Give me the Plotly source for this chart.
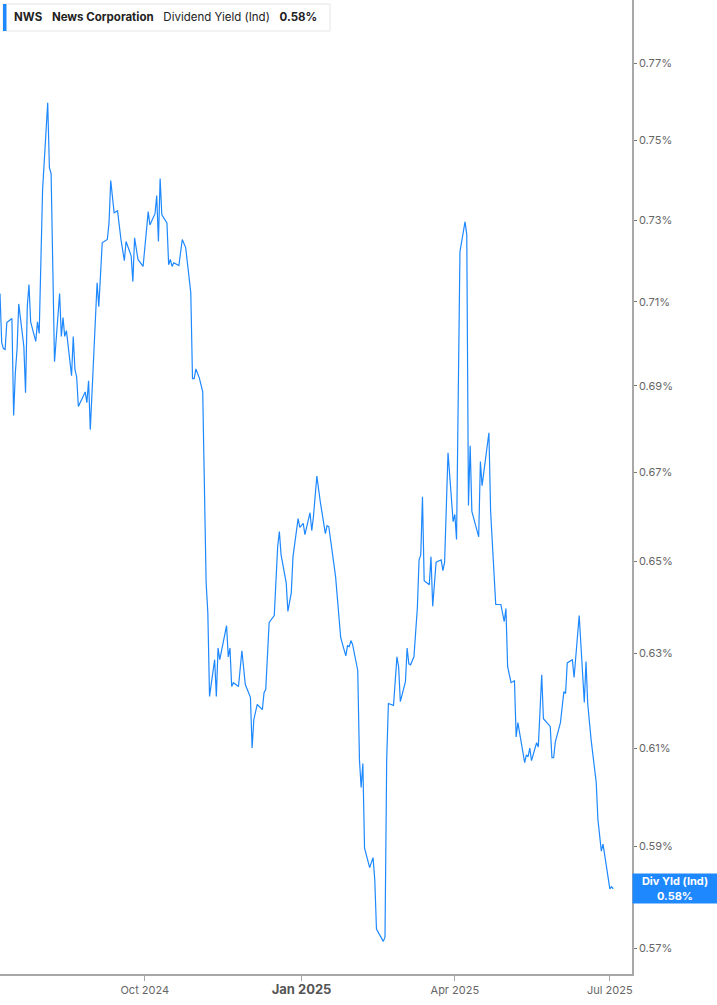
import math
import plotly.graph_objects as go

# ---- data ----
dates = [
    "2024-07-08","2024-07-09","2024-07-10","2024-07-11","2024-07-12","2024-07-15","2024-07-16","2024-07-17",
    "2024-07-18","2024-07-19","2024-07-22","2024-07-23","2024-07-24","2024-07-25","2024-07-26","2024-07-29",
    "2024-07-30","2024-07-31","2024-08-02","2024-08-03","2024-08-05","2024-08-06","2024-08-07","2024-08-09",
    "2024-08-10","2024-08-12","2024-08-13","2024-08-14","2024-08-15","2024-08-16","2024-08-19","2024-08-20",
    "2024-08-21","2024-08-22","2024-08-23","2024-08-26","2024-08-27","2024-08-28","2024-08-29","2024-08-30",
    "2024-09-01","2024-09-03","2024-09-04","2024-09-06","2024-09-09","2024-09-10","2024-09-11","2024-09-13",
    "2024-09-15","2024-09-17","2024-09-19","2024-09-20","2024-09-23","2024-09-24","2024-09-25","2024-09-27",
    "2024-09-30","2024-10-03","2024-10-04","2024-10-07","2024-10-08","2024-10-09","2024-10-10","2024-10-11",
    "2024-10-14","2024-10-15","2024-10-16","2024-10-17","2024-10-18","2024-10-21","2024-10-23","2024-10-25",
    "2024-10-28","2024-10-29","2024-10-30","2024-10-31","2024-11-02","2024-11-04","2024-11-06","2024-11-07",
    "2024-11-08","2024-11-11","2024-11-12","2024-11-13","2024-11-14","2024-11-18","2024-11-19","2024-11-20",
    "2024-11-21","2024-11-22","2024-11-25","2024-11-27","2024-11-29","2024-12-02","2024-12-03","2024-12-04",
    "2024-12-06","2024-12-09","2024-12-10","2024-12-11","2024-12-13","2024-12-16","2024-12-18","2024-12-19",
    "2024-12-20","2024-12-23","2024-12-24","2024-12-26","2024-12-27","2024-12-30","2024-12-31","2025-01-02",
    "2025-01-03","2025-01-06","2025-01-07","2025-01-08","2025-01-10","2025-01-12","2025-01-15","2025-01-16",
    "2025-01-17","2025-01-21","2025-01-24","2025-01-27","2025-01-28","2025-01-29","2025-01-30","2025-01-31",
    "2025-02-03","2025-02-04","2025-02-05","2025-02-06","2025-02-07","2025-02-10","2025-02-12","2025-02-13",
    "2025-02-14","2025-02-18","2025-02-19","2025-02-20","2025-02-21","2025-02-24","2025-02-26","2025-02-27",
    "2025-02-28","2025-03-03","2025-03-04","2025-03-05","2025-03-06","2025-03-08","2025-03-10","2025-03-11",
    "2025-03-12","2025-03-13","2025-03-14","2025-03-17","2025-03-18","2025-03-19","2025-03-21","2025-03-24",
    "2025-03-25","2025-03-26","2025-03-28","2025-03-31","2025-04-01","2025-04-02","2025-04-04","2025-04-07",
    "2025-04-08","2025-04-09","2025-04-10","2025-04-11","2025-04-15","2025-04-16","2025-04-17","2025-04-21",
    "2025-04-22","2025-04-25","2025-04-28","2025-04-30","2025-05-01","2025-05-02","2025-05-04","2025-05-06",
    "2025-05-07","2025-05-08","2025-05-12","2025-05-13","2025-05-14","2025-05-15","2025-05-16","2025-05-19",
    "2025-05-20","2025-05-22","2025-05-23","2025-05-27","2025-05-28","2025-05-29","2025-05-30","2025-06-02",
    "2025-06-04","2025-06-05","2025-06-06","2025-06-09","2025-06-10","2025-06-13","2025-06-16","2025-06-17",
    "2025-06-18","2025-06-20","2025-06-23","2025-06-24","2025-06-26","2025-06-27","2025-07-01","2025-07-02",
    "2025-07-03",
]
div_yield = [
    0.7120,0.7002,0.6988,0.6986,0.7050,0.7060,0.6831,0.6931,
    0.6986,0.7095,0.6993,0.6884,0.7088,0.7142,0.7052,0.7005,
    0.7052,0.7024,0.7376,0.7444,0.7597,0.7431,0.7416,0.6957,
    0.7014,0.7120,0.7017,0.7062,0.7017,0.7031,0.6924,0.7017,
    0.6938,0.6921,0.6852,0.6879,0.6886,0.6861,0.6912,0.6798,
    0.6979,0.7146,0.7088,0.7244,0.7252,0.7293,0.7399,0.7318,
    0.7323,0.7252,0.7200,0.7247,0.7212,0.7149,0.7256,0.7203,
    0.7186,0.7321,0.7288,0.7316,0.7361,0.7247,0.7404,0.7313,
    0.7293,0.7190,0.7203,0.7186,0.7195,0.7188,0.7252,0.7232,
    0.7122,0.6917,0.6917,0.6940,0.6919,0.6886,0.6454,0.6388,
    0.6209,0.6287,0.6209,0.6312,0.6287,0.6360,0.6293,0.6312,
    0.6230,0.6238,0.6230,0.6306,0.6234,0.6207,0.6101,0.6160,
    0.6192,0.6181,0.6217,0.6224,0.6367,0.6382,0.6533,0.6567,
    0.6515,0.6454,0.6391,0.6432,0.6511,0.6596,0.6576,0.6585,
    0.6560,0.6609,0.6569,0.6600,0.6692,0.6634,0.6562,0.6580,
    0.6578,0.6467,0.6334,0.6295,0.6317,0.6315,0.6328,0.6319,
    0.6264,0.6077,0.6020,0.6069,0.5897,0.5858,0.5878,0.5834,
    0.5737,0.5713,0.5721,0.6077,0.6194,0.6190,0.6293,0.6272,
    0.6198,0.6240,0.6312,0.6278,0.6276,0.6293,0.6399,0.6504,
    0.6515,0.6645,0.6458,0.6449,0.6511,0.6402,0.6499,0.6504,
    0.6480,0.6499,0.6745,0.6589,0.6605,0.6549,0.7222,0.7296,
    0.7264,0.6625,0.6761,0.6612,0.6555,0.6725,0.6670,0.6791,
    0.6612,0.6406,0.6406,0.6369,0.6397,0.6272,0.6238,0.6242,
    0.6124,0.6154,0.6071,0.6087,0.6083,0.6101,0.6075,0.6112,
    0.6103,0.6255,0.6162,0.6146,0.6081,0.6081,0.6114,0.6154,
    0.6219,0.6215,0.6280,0.6287,0.6249,0.6382,0.6196,0.6283,
    0.6194,0.6118,0.6030,0.5954,0.5891,0.5905,0.5816,0.5820,
    0.5816,
]
y_ticks = [0.57, 0.59, 0.61, 0.63, 0.65, 0.67, 0.69, 0.71, 0.73, 0.75, 0.77]
y_tick_labels = ["0.57%", "0.59%", "0.61%", "0.63%", "0.65%", "0.67%", "0.69%", "0.71%", "0.73%", "0.75%", "0.77%"]
x_ticks = ["2024-10-01", "2025-01-01", "2025-04-01", "2025-07-01"]
x_tick_labels = ["Oct 2024", "<b><span style='font-size:13px;color:#555'>Jan 2025</span></b>", "Apr 2025", "Jul 2025"]
x_range = ["2024-07-08", "2025-07-14"]
y_range = [0.565, 0.7867]
ticker = "NWS"
company = "News Corporation"
metric = "Dividend Yield (Ind)"
last_label = "0.58%"

BLUE = "#1E88FF"
FONT = "Inter, Roboto, DejaVu Sans, sans-serif"

fig = go.Figure()
fig.add_trace(go.Scatter(
    x=dates, y=div_yield, mode="lines",
    line=dict(color=BLUE, width=1.2),
    hoverinfo="skip", showlegend=False,
))

fig.update_layout(
    width=717, height=1005,
    margin=dict(l=0, r=85, t=0, b=31),
    paper_bgcolor="white", plot_bgcolor="white",
    font=dict(family=FONT, color="#666", size=11),
    showlegend=False,
)
fig.update_xaxes(
    type="date", range=x_range,
    tickmode="array", tickvals=x_ticks, ticktext=x_tick_labels,
    showgrid=False, zeroline=False,
    showline=True, linecolor="#a8a8a8", linewidth=1.5,
    ticks="outside", ticklen=5, tickcolor="#a8a8a8",
    tickfont=dict(family=FONT, size=11, color="#666"),
    fixedrange=True,
)
fig.update_yaxes(
    type="log", range=[math.log10(y_range[0]), math.log10(y_range[1])],
    side="right",
    tickmode="array", tickvals=y_ticks, ticktext=y_tick_labels,
    showgrid=False, zeroline=False,
    showline=True, linecolor="#a8a8a8", linewidth=1.5,
    ticks="outside", ticklen=3, tickcolor="#777",
    tickfont=dict(family=FONT, size=11, color="#666"),
    fixedrange=True,
)

# header box
fig.add_shape(type="rect", xref="paper", yref="paper",
              x0=3/632, x1=330/632, y0=1-31/974, y1=1-4/974,
              fillcolor="white", line=dict(color="#e6e6e6", width=1), layer="above")
fig.add_shape(type="rect", xref="paper", yref="paper",
              x0=3/632, x1=6.5/632, y0=1-31/974, y1=1-4/974,
              fillcolor=BLUE, line=dict(width=0), layer="above")
fig.add_annotation(
    xref="paper", yref="paper", x=12/632, y=1-17.5/974, xanchor="left", yanchor="middle",
    text=f"<b>{ticker}</b>&nbsp;&nbsp;&nbsp;<b>{company}</b>&nbsp;&nbsp;&nbsp;{metric}&nbsp;&nbsp;&nbsp;<b>{last_label}</b>",
    showarrow=False, font=dict(family=FONT, size=11.5, color="#222"),
)

# last value label
fig.add_annotation(
    xref="paper", yref="y", x=1, y=math.log10(div_yield[-1]),
    xanchor="left", yanchor="middle",
    text=f"<b>Div Yld (Ind)</b><br><b>{last_label}</b>",
    showarrow=False, align="center",
    bgcolor=BLUE, width=80, height=25, borderpad=2,
    font=dict(family=FONT, size=11, color="white"),
)

fig.write_html(
    "out.html",
    config={"displayModeBar": False},
    post_script="document.body.style.margin='0';document.body.style.padding='0';"
                "window.dispatchEvent(new Event('resize'));",
)
